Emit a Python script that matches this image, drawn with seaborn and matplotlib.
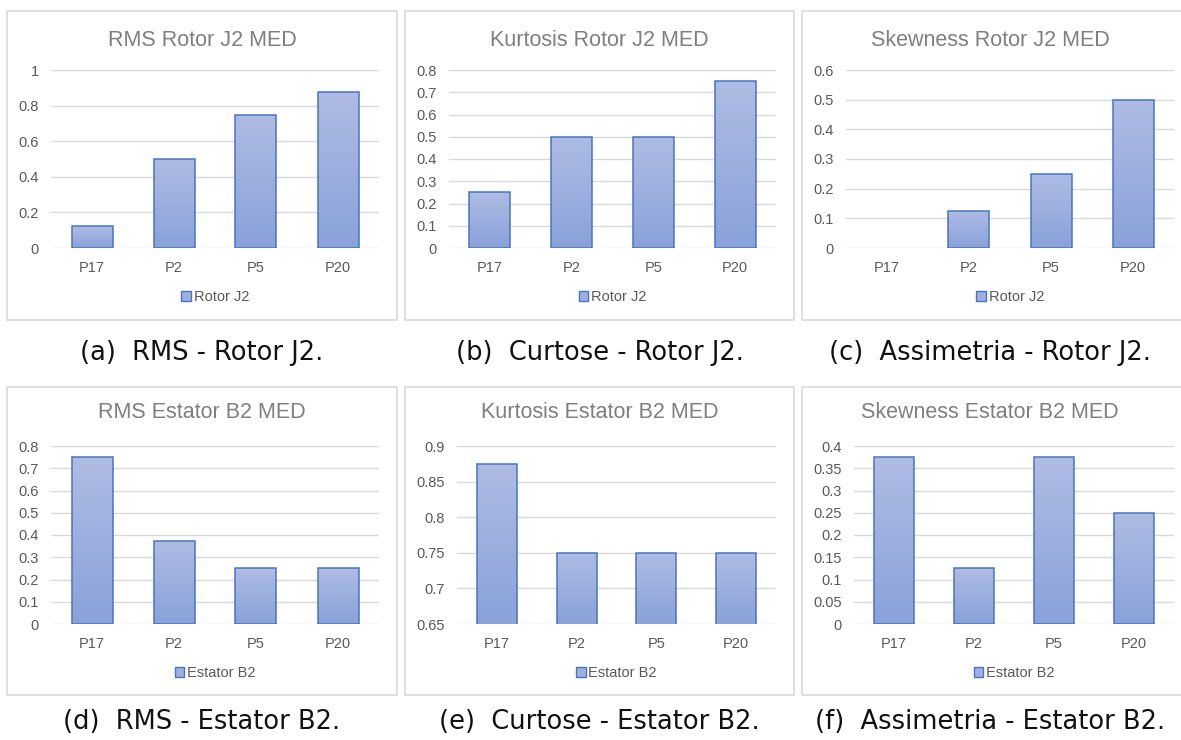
import numpy as np
import pandas as pd
import matplotlib
matplotlib.use("Agg")
import matplotlib.pyplot as plt
import seaborn as sns
from matplotlib.patches import Rectangle, Patch
from matplotlib.colors import LinearSegmentedColormap

# ---------------- data ----------------
categories = ["P17", "P2", "P5", "P20"]

rms_rotor = [0.125, 0.5, 0.75, 0.875]
kurt_rotor = [0.25, 0.5, 0.5, 0.75]
skew_rotor = [0.0, 0.125, 0.25, 0.5]
rms_estator = [0.75, 0.375, 0.25, 0.25]
kurt_estator = [0.875, 0.75, 0.75, 0.75]
skew_estator = [0.375, 0.125, 0.375, 0.25]

titles = ["RMS Rotor J2 MED", "Kurtosis Rotor J2 MED", "Skewness Rotor J2 MED",
          "RMS Estator B2 MED", "Kurtosis Estator B2 MED", "Skewness Estator B2 MED"]
series_names = ["Rotor J2", "Rotor J2", "Rotor J2",
                "Estator B2", "Estator B2", "Estator B2"]
captions = ["(a)  RMS - Rotor J2.", "(b)  Curtose - Rotor J2.", "(c)  Assimetria - Rotor J2.",
            "(d)  RMS - Estator B2.", "(e)  Curtose - Estator B2.", "(f)  Assimetria - Estator B2."]
ylims = [(0, 1), (0, 0.8), (0, 0.6), (0, 0.8), (0.65, 0.9), (0, 0.4)]
yticks = [
    [0, 0.2, 0.4, 0.6, 0.8, 1],
    [0, 0.1, 0.2, 0.3, 0.4, 0.5, 0.6, 0.7, 0.8],
    [0, 0.1, 0.2, 0.3, 0.4, 0.5, 0.6],
    [0, 0.1, 0.2, 0.3, 0.4, 0.5, 0.6, 0.7, 0.8],
    [0.65, 0.7, 0.75, 0.8, 0.85, 0.9],
    [0, 0.05, 0.1, 0.15, 0.2, 0.25, 0.3, 0.35, 0.4],
]
ytick_labels = [
    ["0", "0.2", "0.4", "0.6", "0.8", "1"],
    ["0", "0.1", "0.2", "0.3", "0.4", "0.5", "0.6", "0.7", "0.8"],
    ["0", "0.1", "0.2", "0.3", "0.4", "0.5", "0.6"],
    ["0", "0.1", "0.2", "0.3", "0.4", "0.5", "0.6", "0.7", "0.8"],
    ["0.65", "0.7", "0.75", "0.8", "0.85", "0.9"],
    ["0", "0.05", "0.1", "0.15", "0.2", "0.25", "0.3", "0.35", "0.4"],
]
all_values = [rms_rotor, kurt_rotor, skew_rotor, rms_estator, kurt_estator, skew_estator]

# ---------------- style ----------------
sns.set_theme(style="white")
plt.rcParams["font.family"] = ["Liberation Sans", "DejaVu Sans"]

W, H = 1181, 740
fig = plt.figure(figsize=(W / 100, H / 100), dpi=100)
fig.patch.set_facecolor("white")

def fx(x):
    return x / W

def fy(y):
    return 1 - y / H

# panel borders (px): x0, x1, y0, y1
borders = [(7, 397, 11, 320), (405, 794, 11, 320), (802, 1185, 11, 320),
           (7, 397, 387, 695), (405, 794, 387, 695), (802, 1185, 387, 695)]
# plot areas (px): left, right, top, bottom
plot_areas = [(51, 379, 70, 248), (449, 776, 70, 248), (846, 1174, 70, 248),
              (51, 379, 446, 624), (457, 776, 446, 624), (854, 1174, 446, 624)]

bar_top = "#AEBCE3"
bar_bottom = "#8AA2DA"
edge_col = "#4A73C2"
grad = LinearSegmentedColormap.from_list("g", [bar_bottom, bar_top])
grid_col = "#D9D9D9"
text_col = "#595959"
title_col = "#7F7F7F"

for i in range(6):
    bx0, bx1, by0, by1 = borders[i]
    fig.patches.append(Rectangle((fx(bx0), fy(by1)), fx(bx1 - bx0), (by1 - by0) / H,
                                 transform=fig.transFigure, fill=False,
                                 edgecolor="#D9D9D9", linewidth=1.2))
    l, r, t, b = plot_areas[i]
    ax = fig.add_axes([fx(l), fy(b), fx(r - l), (b - t) / H])
    df = pd.DataFrame({"cat": categories, "val": all_values[i]})
    sns.barplot(data=df, x="cat", y="val", ax=ax, color=bar_top, width=0.5,
                edgecolor=edge_col, linewidth=1.1, saturation=1, zorder=3)
    ax.set_ylim(*ylims[i])
    ax.set_xlim(-0.5, len(categories) - 0.5)
    # gradient fill clipped to each bar
    y0, y1 = ylims[i]
    for p in list(ax.patches):
        x = p.get_x()
        w = p.get_width()
        h = p.get_height()
        if h <= 0:
            p.set_visible(False)
            continue
        img = ax.imshow(np.linspace(0, 1, 256).reshape(-1, 1), cmap=grad,
                        extent=[x, x + w, y0, p.get_y() + h], origin="lower",
                        aspect="auto", zorder=2.5)
        img.set_clip_path(p)
        p.set_facecolor("none")
    ax.set_xlim(-0.5, len(categories) - 0.5)
    ax.set_ylim(*ylims[i])
    ax.set_yticks(yticks[i])
    ax.set_yticklabels(ytick_labels[i])
    ax.set_xlabel("")
    ax.set_ylabel("")
    for s in ax.spines.values():
        s.set_visible(False)
    ax.grid(axis="y", color=grid_col, linewidth=1.0, zorder=0)
    ax.set_axisbelow(True)
    ax.tick_params(axis="both", length=0, labelsize=10.5, colors=text_col)
    ax.tick_params(axis="y", pad=9)
    ax.tick_params(axis="x", pad=9)
    ax.patch.set_alpha(0)
    # title
    cx = (bx0 + bx1) / 2 if i % 3 != 2 else (bx0 + 1178) / 2
    ty = 40 if i < 3 else 413
    fig.text(fx(cx), fy(ty), titles[i], ha="center", va="center",
             fontsize=15.5, color=title_col)
    # legend
    ly = 297 if i < 3 else 673
    handle = Patch(facecolor="#9DB0E0", edgecolor=edge_col, linewidth=1.0)
    fig.legend(handles=[handle], labels=[series_names[i]],
               loc="center", bbox_to_anchor=(fx((l + r) / 2), fy(ly)),
               frameon=False, fontsize=10.5, handlelength=0.65, handleheight=0.65,
               handletextpad=0.2, labelcolor=text_col)
    # caption
    capy = 353 if i < 3 else 722
    fig.text(fx(cx), fy(capy), captions[i], ha="center", va="center",
             fontsize=18.5, color="#111111", family=["DejaVu Sans"])

fig.savefig("out.png", dpi=100, facecolor="white")
